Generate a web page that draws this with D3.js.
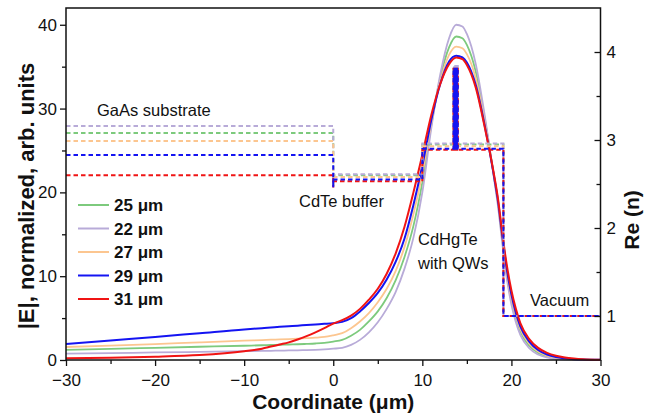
<!DOCTYPE html>
<html><head><meta charset="utf-8">
<script src="https://cdn.jsdelivr.net/npm/d3@7"></script>
<style>body{margin:0;background:#fff}svg{display:block}text{font-family:Arial,"Liberation Sans",sans-serif;fill:#111}</style>
</head><body><svg id="c" width="645" height="417"></svg>
<script>
// ---- data ----
const coord = [-30,-25,-20,-15,-10,-8,-7,-6,-5,-4,-3,-2,-1,0,1,2,3,4,5,6,7,8,9,10,11,12,13,13.8,14.5,15,16,17,18,18.5,19,19.5,20,20.5,21,22,23,24,25,26,27,28,30];
const E25 = [1.2,1.32,1.45,1.58,1.7,1.76,1.79,1.82,1.85,1.88,1.92,1.97,2.05,2.2,2.4,2.9,3.6,4.6,5.8,7.4,9.5,12.3,16.0,21.2,28.0,33.6,37.3,38.6,38.4,37.6,34.4,28.8,22.2,18.6,14.1,10.0,7.1,5.0,3.4,1.7,0.85,0.42,0.2,0.1,0.05,0.02,0.01];
const E22 = [0.75,0.82,0.9,0.97,1.05,1.08,1.1,1.12,1.14,1.16,1.19,1.22,1.27,1.35,1.45,1.8,2.4,3.3,4.5,6.1,8.1,10.9,14.6,20.0,27.6,34.0,38.4,40.0,39.8,38.9,35.3,29.2,22.0,18.3,13.7,9.6,6.6,4.5,3.0,1.4,0.65,0.3,0.14,0.06,0.03,0.01,0];
const E27 = [1.55,1.72,1.9,2.1,2.3,2.38,2.42,2.46,2.5,2.55,2.6,2.66,2.75,2.95,3.2,3.8,4.6,5.6,6.9,8.5,10.6,13.5,17.4,22.2,28.3,33.2,36.4,37.4,37.2,36.5,33.6,28.4,22.2,18.7,14.3,10.3,7.4,5.3,3.7,1.95,1.0,0.52,0.27,0.14,0.07,0.04,0.01];
const E29 = [1.9,2.33,2.75,3.2,3.65,3.8,3.88,3.96,4.03,4.1,4.18,4.25,4.32,4.4,4.55,5.0,5.8,6.8,8.0,9.6,11.7,14.5,18.5,23.2,28.6,32.9,35.6,36.3,36.1,35.5,32.8,28.0,22.2,18.9,14.6,10.7,7.8,5.6,4.0,2.2,1.2,0.65,0.35,0.2,0.1,0.05,0.02];
const E31 = [0.2,0.28,0.4,0.6,1.05,1.35,1.6,1.85,2.1,2.45,2.85,3.3,3.8,4.35,4.75,5.3,6.1,7.2,8.5,10.3,12.7,15.9,20.0,24.5,29.2,32.9,35.3,36.1,35.9,35.2,32.5,27.8,22.4,19.2,14.9,11.2,8.3,6.1,4.4,2.5,1.45,0.85,0.5,0.3,0.18,0.1,0.04];

const seriesLabels = ["25 \u03bcm","22 \u03bcm","27 \u03bcm","29 \u03bcm","31 \u03bcm"];
const seriesColors = ["#7dca7d","#b8abd8","#fcc690","#1414f2","#f01414"];

// refractive index profile (Re n) per series
const layerEdges = [-30, 0, 10, 19.1, 30];
const nSub  = [3.08, 3.16, 2.99, 2.83, 2.60];
const nDip  = [2.47, 2.47, 2.47, 2.46, 2.46];
const nBuf  = [2.60, 2.61, 2.58, 2.55, 2.53];
const nCore = [2.95, 2.96, 2.93, 2.90, 2.89];
const nQW   = [3.82, 3.84, 3.82, 3.81, 3.81];
const nVac  = [1, 1, 1, 1, 1];
const qwStart = [13.5, 13.6, 13.7, 13.8, 13.9];
const qwWidth = 0.08;
const dashOrder = [0, 1, 2, 4, 3];

const xTicks = [-30,-20,-10,0,10,20,30];
const xMinor = [-25,-15,-5,5,15,25];
const yLeftTicks = [0,10,20,30,40];
const yLeftMinor = [5,15,25,35];
const yRightTicks = [1,2,3,4];
const yRightMinor = [1.5,2.5,3.5];

const annotations = [
  {t:"GaAs substrate", x:97, y:116},
  {t:"CdTe buffer", x:299, y:207},
  {t:"CdHgTe", x:418, y:245},
  {t:"with QWs", x:418, y:269},
  {t:"Vacuum", x:530, y:306}
];

// ---- drawing ----
const svg = d3.select("#c");
const L = 66, R = 600.5, T = 8, B = 360;
const x = d3.scaleLinear().domain([-30,30]).range([L,R]);
const yL = d3.scaleLinear().domain([0,42]).range([B,T]);
const yR = d3.scaleLinear().domain([0.5,4.5]).range([B,T]);

const Es = [E25,E22,E27,E29,E31];
const line = d3.line().x(d=>x(d[0])).y(d=>yL(d[1])).curve(d3.curveMonotoneX);
const plot = svg.append("g");
Es.forEach((E,i)=>{
  plot.append("path").attr("d", line(coord.map((c,k)=>[c,E[k]])))
    .attr("fill","none").attr("stroke",seriesColors[i]).attr("stroke-width", i>=3?2:1.8);
});

const stepLine = d3.line().x(d=>x(d[0])).y(d=>yR(d[1]));
dashOrder.forEach(i=>{
  const p = [[layerEdges[0],nSub[i]],[layerEdges[1],nSub[i]],[layerEdges[1],nDip[i]],[layerEdges[1],nBuf[i]],
             [layerEdges[2],nBuf[i]],[layerEdges[2],nCore[i]]];
  qwStart.forEach(q=>{ p.push([q,nCore[i]],[q,nQW[i]],[q+qwWidth,nQW[i]],[q+qwWidth,nCore[i]]); });
  p.push([layerEdges[3],nCore[i]],[layerEdges[3],nVac[i]],[layerEdges[4],nVac[i]]);
  plot.append("path").attr("d", stepLine(p)).attr("fill","none")
    .attr("stroke",seriesColors[i]).attr("stroke-width",2).attr("stroke-dasharray","4.5,3");
});

// frame
svg.append("rect").attr("x",L).attr("y",T).attr("width",R-L).attr("height",B-T)
  .attr("fill","none").attr("stroke","#111").attr("stroke-width",1.5);

function styleAxis(g){ g.select(".domain").remove(); g.selectAll("line").attr("stroke","#111").attr("stroke-width",1.3);
  g.selectAll("text").attr("font-size",17).attr("fill","#111").attr("font-family","Arial, 'Liberation Sans', sans-serif"); }

svg.append("g").attr("transform",`translate(0,${B})`)
  .call(d3.axisBottom(x).tickValues(xTicks).tickSize(6).tickPadding(8).tickFormat(d3.format("d"))).call(styleAxis);
svg.append("g").attr("transform",`translate(0,${B})`)
  .call(d3.axisBottom(x).tickValues(xMinor).tickSize(4).tickFormat("")).call(styleAxis);

svg.append("g").attr("transform",`translate(${L},0)`)
  .call(d3.axisLeft(yL).tickValues(yLeftTicks).tickSize(6).tickPadding(3).tickFormat(d3.format("d"))).call(styleAxis);
svg.append("g").attr("transform",`translate(${L},0)`)
  .call(d3.axisLeft(yL).tickValues(yLeftMinor).tickSize(4).tickFormat("")).call(styleAxis);

svg.append("g").attr("transform",`translate(${R},0)`)
  .call(d3.axisRight(yR).tickValues(yRightTicks).tickSizeInner(-6).tickSizeOuter(0).tickPadding(6).tickFormat(d3.format("d"))).call(styleAxis);
svg.append("g").attr("transform",`translate(${R},0)`)
  .call(d3.axisRight(yR).tickValues(yRightMinor).tickSizeInner(-4).tickSizeOuter(0).tickFormat("")).call(styleAxis);

// titles
svg.append("text").attr("x",(L+R)/2).attr("y",409).attr("text-anchor","middle")
  .attr("font-size",21).attr("font-weight","bold").text("Coordinate (\u03bcm)");
svg.append("text").attr("transform","translate(34,196) rotate(-90)").attr("text-anchor","middle")
  .attr("font-size",22).attr("font-weight","bold").text("|E|, normalized, arb. units");
svg.append("text").attr("transform","translate(639,220) rotate(-90)").attr("text-anchor","middle")
  .attr("font-size",21).attr("font-weight","bold").text("Re (n)");

// legend
seriesLabels.forEach((s,i)=>{
  const yy = 205 + i*23.5;
  svg.append("line").attr("x1",78).attr("x2",109).attr("y1",yy).attr("y2",yy)
    .attr("stroke",seriesColors[i]).attr("stroke-width",2);
  svg.append("text").attr("x",114).attr("y",yy+6).attr("font-size",17).attr("font-weight","bold").text(s);
});

annotations.forEach(a=>{
  svg.append("text").attr("x",a.x).attr("y",a.y).attr("font-size",16.5).text(a.t);
});
</script></body></html>
